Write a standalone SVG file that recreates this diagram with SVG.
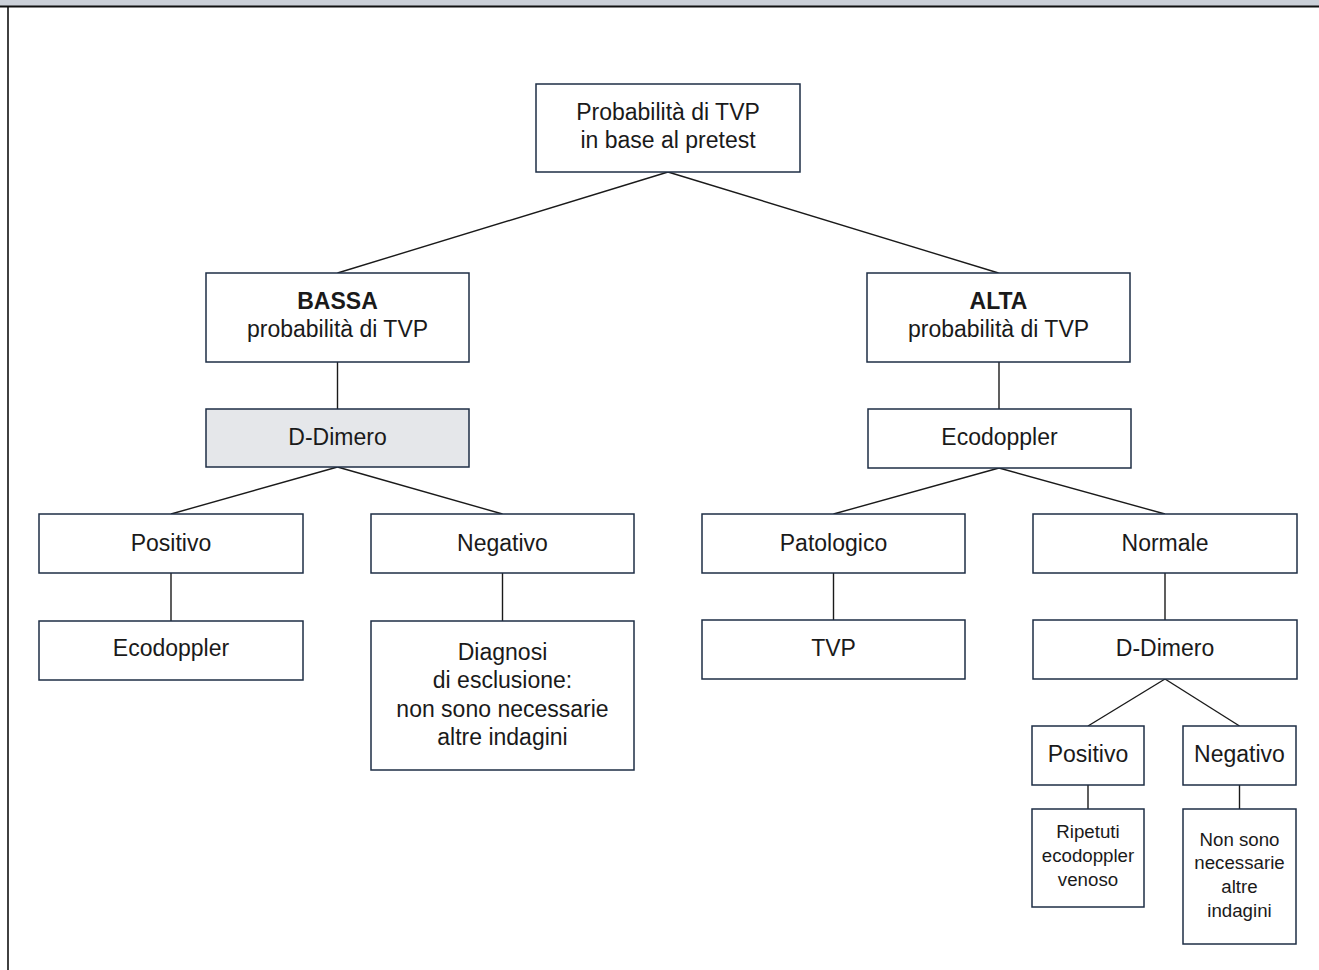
<svg xmlns="http://www.w3.org/2000/svg" width="1319" height="970" viewBox="0 0 1319 970">
<style>
.box{fill:#ffffff;stroke:#1e2e45;stroke-width:1.5}
.gray{fill:#e5e7ea}
.t{font-family:"Liberation Sans",Arial,sans-serif;font-size:23px;fill:#1a1a1a;text-anchor:middle}
.b{font-weight:bold}
.s{font-size:18.7px}
.c line{stroke:#1a1a1a;stroke-width:1.4}
</style>
<rect x="0" y="0" width="1319" height="970" fill="#ffffff"/>
<rect x="0" y="0" width="1319" height="6" fill="#cbd0d8"/>
<line x1="0" y1="6.5" x2="1319" y2="6.5" stroke="#111111" stroke-width="2"/>
<line x1="8" y1="6" x2="8" y2="970" stroke="#111111" stroke-width="1.6"/>
<g class="c" id="connectors">
<line x1="668" y1="172" x2="337.5" y2="273"/>
<line x1="668" y1="172" x2="998.5" y2="273"/>
<line x1="337.5" y1="362" x2="337.5" y2="409"/>
<line x1="337.5" y1="467" x2="171" y2="514"/>
<line x1="337.5" y1="467" x2="502.5" y2="514"/>
<line x1="171" y1="573" x2="171" y2="621"/>
<line x1="502.5" y1="573" x2="502.5" y2="621"/>
<line x1="999" y1="362" x2="999" y2="409"/>
<line x1="999" y1="468" x2="833.5" y2="514"/>
<line x1="999" y1="468" x2="1165" y2="514"/>
<line x1="833.5" y1="573" x2="833.5" y2="620"/>
<line x1="1165" y1="573" x2="1165" y2="620"/>
<line x1="1165" y1="679" x2="1088" y2="726"/>
<line x1="1165" y1="679" x2="1239.5" y2="726"/>
<line x1="1088" y1="785" x2="1088" y2="809"/>
<line x1="1239.5" y1="785" x2="1239.5" y2="809"/>
</g>
<g id="root">
<rect class="box" x="536" y="84" width="264" height="88"/>
<text class="t" x="668" y="120">Probabilità di TVP</text>
<text class="t" x="668" y="148">in base al pretest</text>
</g>
<g id="bassa">
<rect class="box" x="206" y="273" width="263" height="89"/>
<text class="t b" x="337.5" y="309">BASSA</text>
<text class="t" x="337.5" y="337">probabilità di TVP</text>
</g>
<g id="ddimero-left">
<rect class="box gray" x="206" y="409" width="263" height="58"/>
<text class="t" x="337.5" y="445">D-Dimero</text>
</g>
<g id="positivo-left">
<rect class="box" x="39" y="514" width="264" height="59"/>
<text class="t" x="171" y="551">Positivo</text>
</g>
<g id="ecodoppler-left">
<rect class="box" x="39" y="621" width="264" height="59"/>
<text class="t" x="171" y="656">Ecodoppler</text>
</g>
<g id="negativo-left">
<rect class="box" x="371" y="514" width="263" height="59"/>
<text class="t" x="502.5" y="551">Negativo</text>
</g>
<g id="diagnosi">
<rect class="box" x="371" y="621" width="263" height="149"/>
<text class="t" x="502.5" y="660">Diagnosi</text>
<text class="t" x="502.5" y="688">di esclusione:</text>
<text class="t" x="502.5" y="717">non sono necessarie</text>
<text class="t" x="502.5" y="745">altre indagini</text>
</g>
<g id="alta">
<rect class="box" x="867" y="273" width="263" height="89"/>
<text class="t b" x="998.5" y="309">ALTA</text>
<text class="t" x="998.5" y="337">probabilità di TVP</text>
</g>
<g id="ecodoppler-right">
<rect class="box" x="868" y="409" width="263" height="59"/>
<text class="t" x="999.5" y="445">Ecodoppler</text>
</g>
<g id="patologico">
<rect class="box" x="702" y="514" width="263" height="59"/>
<text class="t" x="833.5" y="551">Patologico</text>
</g>
<g id="tvp">
<rect class="box" x="702" y="620" width="263" height="59"/>
<text class="t" x="833.5" y="656">TVP</text>
</g>
<g id="normale">
<rect class="box" x="1033" y="514" width="264" height="59"/>
<text class="t" x="1165" y="551">Normale</text>
</g>
<g id="ddimero-right">
<rect class="box" x="1033" y="620" width="264" height="59"/>
<text class="t" x="1165" y="656">D-Dimero</text>
</g>
<g id="positivo-right">
<rect class="box" x="1032" y="726" width="112" height="59"/>
<text class="t" x="1088" y="762">Positivo</text>
</g>
<g id="negativo-right">
<rect class="box" x="1183" y="726" width="113" height="59"/>
<text class="t" x="1239.5" y="762">Negativo</text>
</g>
<g id="ripetuti">
<rect class="box" x="1032" y="809" width="112" height="98"/>
<text class="t s" x="1088" y="838">Ripetuti</text>
<text class="t s" x="1088" y="862">ecodoppler</text>
<text class="t s" x="1088" y="886">venoso</text>
</g>
<g id="non-sono">
<rect class="box" x="1183" y="809" width="113" height="135"/>
<text class="t s" x="1239.5" y="846">Non sono</text>
<text class="t s" x="1239.5" y="869">necessarie</text>
<text class="t s" x="1239.5" y="893">altre</text>
<text class="t s" x="1239.5" y="917">indagini</text>
</g>
</svg>
